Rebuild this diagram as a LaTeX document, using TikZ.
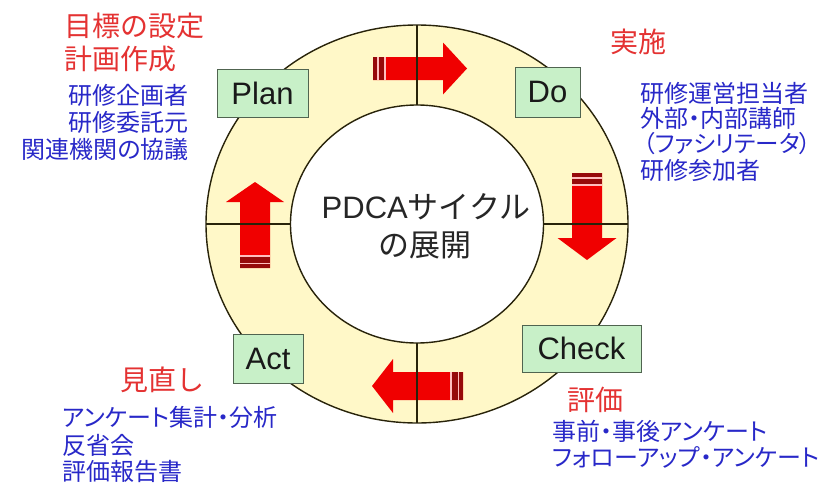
\documentclass[tikz,border=0pt]{standalone}
\usepackage{fontspec}
\setmainfont{Liberation Sans}
\newfontfamily\jp{Noto Sans CJK JP}
\newfontfamily\jpp{Noto Sans CJK JP}[RawFeature=+palt]
\definecolor{ringfill}{RGB}{255,248,200}
\definecolor{boxfill}{RGB}{200,240,200}
\definecolor{boxline}{RGB}{80,100,80}
\definecolor{labred}{RGB}{228,50,50}
\definecolor{labblue}{RGB}{40,40,200}
\definecolor{arrred}{RGB}{240,0,0}
\definecolor{arrdark}{RGB}{150,10,10}
\definecolor{arrgap}{RGB}{255,190,190}
\definecolor{lineink}{RGB}{40,35,10}
\newcommand\pdcaArrow[7]{%
  \begin{scope}[shift={(#1,#2)}, rotate=#3]
    \fill[arrred] (0,-#5) -- ({#4-#7},-#5) -- ({#4-#7},-#6) -- (#4,0) -- ({#4-#7},#6) -- ({#4-#7},#5) -- (0,#5) -- cycle;
    \fill[arrgap] (0,-#5) rectangle (13,#5);
    \fill[arrdark] (0,-#5) rectangle (4,#5);
    \fill[arrdark] (5.5,-#5) rectangle (11,#5);
  \end{scope}}
\begin{document}
\begin{tikzpicture}[x=1pt,y=-1pt,
  stage/.style={draw=boxline, line width=1pt, fill=boxfill, inner sep=0pt,
    font=\fontsize{31}{31}\selectfont, text=black!90},
  redlab/.style={text=labred, inner sep=0pt, font=\jp\fontsize{28}{33}\selectfont},
  bluelab/.style={text=labblue, inner sep=0pt, font=\jpp\fontsize{24}{26}\selectfont},
  cross/.style={draw=lineink, line width=1.3pt}]
\useasboundingbox (0,0) rectangle (827,482);
% ring
\fill[ringfill, even odd rule] (417,224) ellipse [x radius=211, y radius=199]
  (417,224) ellipse [x radius=126.5, y radius=119];
\draw[lineink, line width=1.4pt] (417,224) ellipse [x radius=211, y radius=199];
\draw[lineink, line width=1.4pt] (417,224) ellipse [x radius=126.5, y radius=119];
% arrows
\pdcaArrow{373}{68.5}{0}{94}{11.5}{26}{24}
\pdcaArrow{587}{173}{-90}{87}{15}{29.5}{22}
\pdcaArrow{463}{386}{180}{91}{14}{27}{21}
\pdcaArrow{255}{268}{90}{86}{15}{29}{20}
% cross lines
\coordinate (ot) at (417,25);  \coordinate (it) at (417,105);
\coordinate (ob) at (417,423); \coordinate (ib) at (417,343);
\coordinate (ol) at (206,224); \coordinate (il) at (290.5,224);
\coordinate (or) at (628,224); \coordinate (ir) at (543.5,224);
\draw[cross] (ot) -- (it);
\draw[cross] (ib) -- (ob);
\draw[cross] (ol) -- (il);
\draw[cross] (ir) -- (or);
% stage boxes
\node[stage, minimum width=91pt, minimum height=48pt] (plan) at (262.5,93) {Plan};
\node[stage, minimum width=65pt, minimum height=50pt] (do) at (547.5,92) {Do};
\node[stage, minimum width=70pt, minimum height=49pt] (act) at (268,358.5) {Act};
\node[stage, minimum width=119pt, minimum height=47pt] (check) at (581.5,348.5) {Check};
% centre
\node[inner sep=0pt, text=black!85, font=\fontsize{31}{31}\selectfont] (c1) at (426,207) {PDCA{\jp サイクル}};
\node[inner sep=0pt, text=black!85, font=\jp\fontsize{31}{31}\selectfont] (c2) at (425,245) {の展開};
% Plan texts
\node[redlab, anchor=west] (p1) at (64,26) {目標の設定};
\node[redlab, anchor=west] (p2) at (64,59) {計画作成};
\node[bluelab, anchor=east] (p3) at (189,95) {研修企画者};
\node[bluelab, anchor=east] (p4) at (189,122) {研修委託元};
\node[bluelab, anchor=east] (p5) at (189,149) {関連機関の協議};
% Do texts
\node[redlab] (d1) at (638,42) {実施};
\node[bluelab, anchor=west] (d2) at (640,93) {研修運営担当者};
\node[bluelab, anchor=west] (d3) at (640,118) {外部・内部講師};
\node[bluelab, anchor=west, font=\jpp\fontsize{23.5}{26}\selectfont] (d4) at (643,144) {（ファシリテータ）};
\node[bluelab, anchor=west] (d5) at (640,170) {研修参加者};
% Act texts
\node[redlab] (a1) at (162,380) {見直し};
\node[bluelab, anchor=west] (a2) at (62,417) {アンケート集計・分析};
\node[bluelab, anchor=west] (a3) at (62,445) {反省会};
\node[bluelab, anchor=west] (a4) at (62,471) {評価報告書};
% Check texts
\node[redlab] (k1) at (595,400) {評価};
\node[bluelab, anchor=west] (k2) at (552,431) {事前・事後アンケート};
\node[bluelab, anchor=west] (k3) at (552,457) {フォローアップ・アンケート};
\end{tikzpicture}
\end{document}
